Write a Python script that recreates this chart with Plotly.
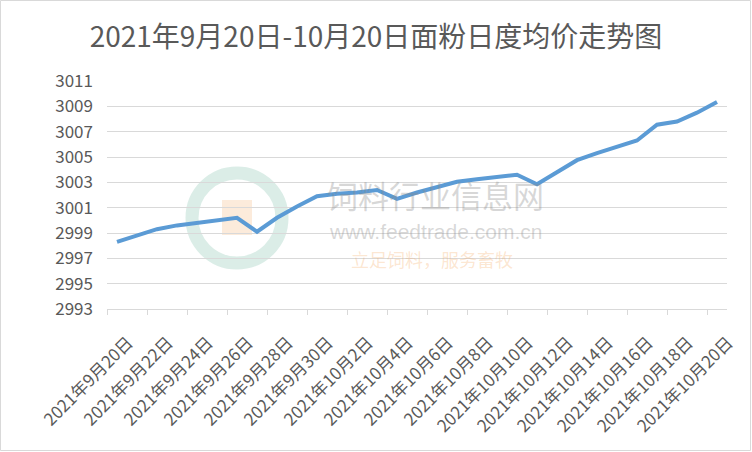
import plotly.graph_objects as go

dates = ["2021年9月20日", "2021年9月21日", "2021年9月22日", "2021年9月23日", "2021年9月24日",
         "2021年9月25日", "2021年9月26日", "2021年9月27日", "2021年9月28日", "2021年9月29日",
         "2021年9月30日", "2021年10月1日", "2021年10月2日", "2021年10月3日", "2021年10月4日",
         "2021年10月5日", "2021年10月6日", "2021年10月7日", "2021年10月8日", "2021年10月9日",
         "2021年10月10日", "2021年10月11日", "2021年10月12日", "2021年10月13日", "2021年10月14日",
         "2021年10月15日", "2021年10月16日", "2021年10月17日", "2021年10月18日", "2021年10月19日",
         "2021年10月20日"]
prices = [2998.3, 2998.8, 2999.3, 2999.6, 2999.8, 3000.0, 3000.2, 2999.1, 3000.2, 3001.1,
          3001.9, 3002.1, 3002.2, 3002.4, 3001.7, 3002.2, 3002.6, 3003.05, 3003.25, 3003.4,
          3003.6, 3002.85, 3003.8, 3004.75, 3005.3, 3005.8, 3006.3, 3007.55, 3007.8, 3008.5,
          3009.35]
y_ticks = [2993, 2995, 2997, 2999, 3001, 3003, 3005, 3007, 3009, 3011]
title = "2021年9月20日-10月20日面粉日度均价走势图"

idx = list(range(len(dates)))
label_idx = idx[::2]
label_text = [dates[i] for i in label_idx]

FONT = "Noto Sans CJK SC, sans-serif"
GRAY = "#595959"

fig = go.Figure()
fig.add_trace(go.Scatter(
    x=idx, y=prices, mode="lines",
    line=dict(color="#5b9bd5", width=4),
    hoverinfo="skip", showlegend=False,
))

W, H = 752, 452
L, R, T, B = 107, 25, 81, 143
pw, ph = W - L - R, H - T - B

fig.update_layout(
    width=W, height=H,
    margin=dict(l=L, r=R, t=T, b=B, autoexpand=False),
    paper_bgcolor="white", plot_bgcolor="white",
    title=dict(text=title, x=0.5, xanchor="center", y=1 - 37 / H, yanchor="middle",
               font=dict(family=FONT, size=28, color=GRAY)),
    xaxis=dict(
        range=[-0.5, len(dates) - 0.5],
        tickmode="array", tickvals=label_idx, ticktext=label_text,
        tickangle=-45, ticks="", ticklabelstandoff=16, ticklabelshift=11,
        tickfont=dict(family=FONT, size=17, color=GRAY),
        showgrid=False, zeroline=False, automargin=False,
        showline=True, linecolor="#d9d9d9", linewidth=1,
        minor=dict(tick0=-0.5, dtick=2, ticks="outside", ticklen=5,
                   tickcolor="#d9d9d9", tickwidth=1, showgrid=False),
    ),
    yaxis=dict(
        range=[y_ticks[0], y_ticks[-1]],
        tickmode="array", tickvals=y_ticks,
        tickfont=dict(family=FONT, size=17, color=GRAY),
        showgrid=True, gridcolor="#d9d9d9", gridwidth=1,
        zeroline=False, showline=False, ticks="", ticklabelstandoff=13,
        automargin=False,
    ),
)

def px(xp):
    return (xp - L) / pw

def py(yp):
    return (H - B - yp) / ph

# chart border
fig.add_shape(type="rect", xref="paper", yref="paper",
              x0=px(0.5), x1=px(W - 1.5), y0=py(H - 1.5), y1=py(0.5),
              line=dict(color="#d9d9d9", width=1), layer="below")

# watermark logo
fig.add_shape(type="circle", xref="paper", yref="paper",
              x0=px(192), x1=px(282), y0=py(263), y1=py(173),
              line=dict(color="rgba(90,175,145,0.22)", width=13), layer="below")
fig.add_shape(type="rect", xref="paper", yref="paper",
              x0=px(222), x1=px(252), y0=py(235), y1=py(200),
              fillcolor="rgba(245,175,110,0.25)", line=dict(width=0), layer="below")

# watermark texts
fig.add_annotation(x=px(435), y=py(194), xref="paper", yref="paper",
                   text="饲料行业信息网", showarrow=False,
                   font=dict(family="Noto Sans CJK SC", size=31, color="rgba(140,140,140,0.35)"))
fig.add_annotation(x=px(435), y=py(245), xref="paper", yref="paper",
                   text="www.feedtrade.com.cn", showarrow=False,
                   font=dict(family="Liberation Sans", size=21, color="rgba(140,140,140,0.35)"))
fig.add_annotation(x=px(432), y=py(274), xref="paper", yref="paper",
                   text="立足饲料，服务畜牧", showarrow=False,
                   font=dict(family="Noto Sans CJK SC", size=18, color="rgba(245,170,100,0.3)"))

fig.write_html("out.html", config={"displayModeBar": False},
               post_script="document.body.style.margin='0';")
